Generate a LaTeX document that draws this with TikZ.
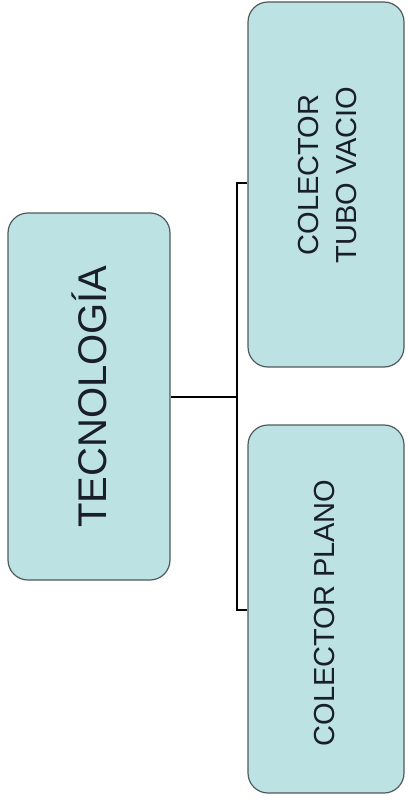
\documentclass[tikz,border=0pt]{standalone}
\usepackage{fontspec}
\setmainfont{Liberation Sans}
\definecolor{boxfill}{RGB}{188,226,228}
\definecolor{boxline}{RGB}{80,90,92}
\definecolor{txt}{RGB}{25,30,40}
\begin{document}
\begin{tikzpicture}[x=1pt,y=-1pt,
  box/.style={draw=boxline, line width=1.2pt, fill=boxfill, rounded corners=20pt, text=txt, align=center, inner sep=0pt},
  conn/.style={draw=black, line width=1.8pt}]
\useasboundingbox (0,0) rectangle (407,805);
\node[box, minimum width=162pt, minimum height=367pt] (tec) at (89,396.5) {};
\node[rotate=90, text=txt, font=\fontsize{40}{48}\selectfont] (tect) at (tec.center) {TECNOLOGÍA};
\node[box, minimum width=156pt, minimum height=365pt] (tubo) at (326,184.5) {};
\node[rotate=90, text=txt, align=center, font=\fontsize{29}{38}\selectfont] (tubot) at (328,175) {COLECTOR\\TUBO VACIO};
\node[box, minimum width=156pt, minimum height=368pt] (plano) at (326,609) {};
\node[rotate=90, text=txt, font=\fontsize{29}{36}\selectfont] (planot) at (325,613) {COLECTOR PLANO};
\coordinate (j) at (237,397);
\coordinate (jt) at (237,183);
\coordinate (jb) at (237,610);
\draw[conn] (tec.east |- j) -- (j);
\draw[conn] (tubo.west |- jt) -- (jt) -- (jb) -- (plano.west |- jb);
\end{tikzpicture}
\end{document}
